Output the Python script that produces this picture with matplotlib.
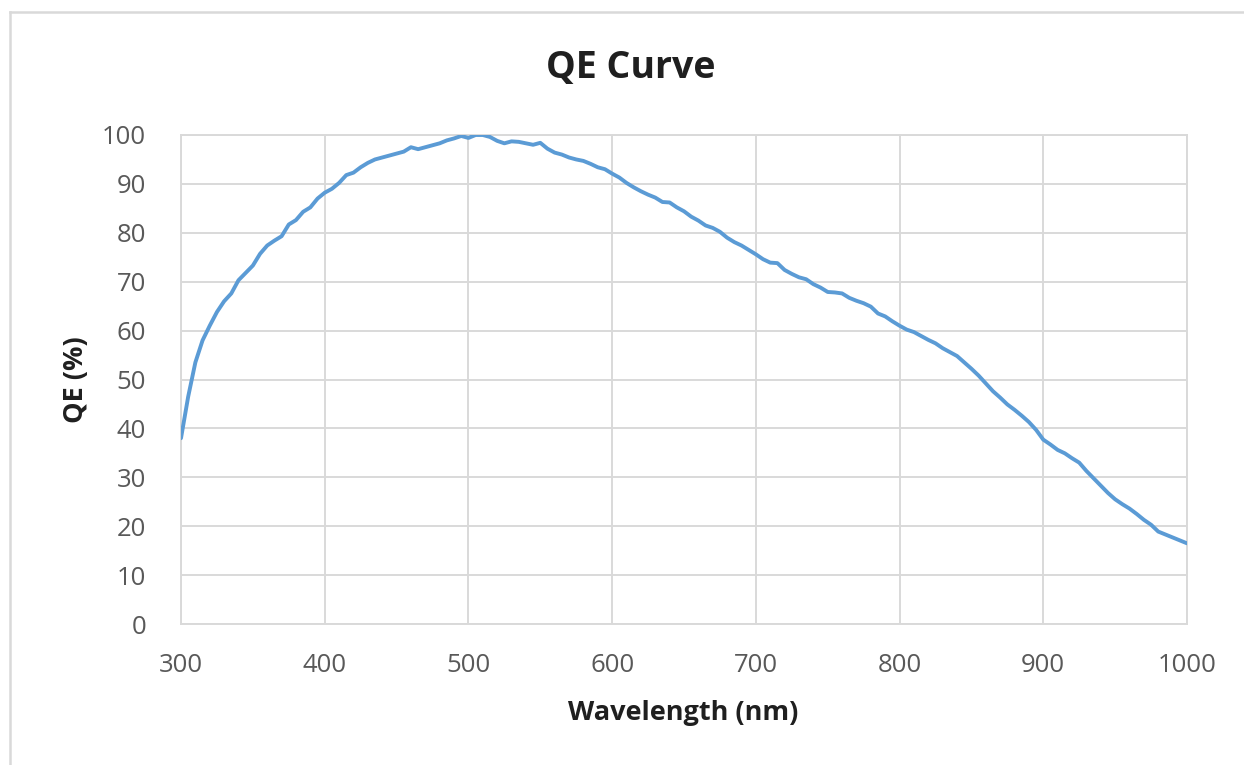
import matplotlib
matplotlib.use("Agg")
import matplotlib.pyplot as plt
from matplotlib.lines import Line2D

wavelength_nm = list(range(300, 1001, 5))
qe_percent = [
    38.0, 46.5, 53.5, 58.0, 61.0, 63.8, 66.0, 67.6, 70.3, 71.8,
    73.3, 75.7, 77.4, 78.4, 79.3, 81.7, 82.6, 84.3, 85.2, 87.0,
    88.2, 89.0, 90.2, 91.8, 92.3, 93.4, 94.3, 95.0, 95.4, 95.8,
    96.2, 96.6, 97.5, 97.1, 97.5, 97.9, 98.3, 98.9, 99.3, 99.8,
    99.4, 100.0, 100.0, 99.6, 98.8, 98.3, 98.7, 98.6, 98.3, 98.0,
    98.4, 97.2, 96.4, 96.0, 95.4, 95.0, 94.7, 94.1, 93.4, 93.0,
    92.1, 91.3, 90.2, 89.3, 88.5, 87.8, 87.2, 86.3, 86.2, 85.2,
    84.4, 83.3, 82.5, 81.5, 81.0, 80.2, 79.0, 78.1, 77.4, 76.5,
    75.6, 74.6, 73.9, 73.8, 72.4, 71.6, 70.9, 70.5, 69.5, 68.8,
    67.9, 67.8, 67.6, 66.7, 66.1, 65.6, 64.9, 63.5, 62.9, 61.9,
    61.0, 60.2, 59.7, 58.9, 58.1, 57.4, 56.4, 55.6, 54.8, 53.5,
    52.2, 50.8, 49.2, 47.6, 46.3, 44.9, 43.8, 42.6, 41.3, 39.7,
    37.7, 36.7, 35.6, 34.9, 33.9, 33.0, 31.3, 29.8, 28.3, 26.8,
    25.5, 24.5, 23.6, 22.5, 21.3, 20.3, 18.9, 18.3, 17.7, 17.1,
    16.5,
]
x_ticks = [300, 400, 500, 600, 700, 800, 900, 1000]
y_ticks = [0, 10, 20, 30, 40, 50, 60, 70, 80, 90, 100]

title_text = "QE Curve"
x_label = "Wavelength (nm)"
y_label = "QE (%)"

plt.rcParams["font.family"] = ["Open Sans", "DejaVu Sans"]

W, H = 1244, 765
fig = plt.figure(figsize=(W / 100, H / 100), dpi=100)
fig.patch.set_facecolor("white")

ax = fig.add_axes([181 / W, 1 - 624 / H, (1187 - 181) / W, (624 - 135) / H])
grid_c = "#D9D9D9"
ax.plot(wavelength_nm, qe_percent, color="#5B9BD5", linewidth=2.8, solid_capstyle="round", zorder=3)
ax.set_xlim(300, 1000)
ax.set_ylim(0, 100)
ax.set_xticks(x_ticks)
ax.set_yticks(y_ticks)
ax.grid(True, color=grid_c, linewidth=1.4, zorder=0)
ax.set_axisbelow(True)
for s in ax.spines.values():
    s.set_color(grid_c)
    s.set_linewidth(1.4)
ax.tick_params(axis="both", length=0, colors="#595959", labelsize=18.5)
ax.tick_params(axis="x", pad=21)
ax.tick_params(axis="y", pad=25)

fig.text(631 / W, 1 - 68 / H, title_text, ha="center", va="center",
         fontsize=27, fontweight="bold", color="#1F1F1F")
fig.text(683 / W, 1 - 713 / H, x_label, ha="center", va="center",
         fontsize=19.5, fontweight="bold", color="#1F1F1F")
fig.text(76 / W, 1 - 380 / H, y_label, ha="center", va="center", rotation=90,
         fontsize=19.5, fontweight="bold", color="#1F1F1F")

# chart-area border (cropped at right and bottom)
fig.add_artist(Line2D([10 / W, 10 / W], [0, 1 - 12 / H], transform=fig.transFigure,
                      color=grid_c, linewidth=1.8))
fig.add_artist(Line2D([10 / W, 1], [1 - 12 / H, 1 - 12 / H], transform=fig.transFigure,
                      color=grid_c, linewidth=1.8))

fig.savefig("out.png", dpi=100, facecolor="white")
